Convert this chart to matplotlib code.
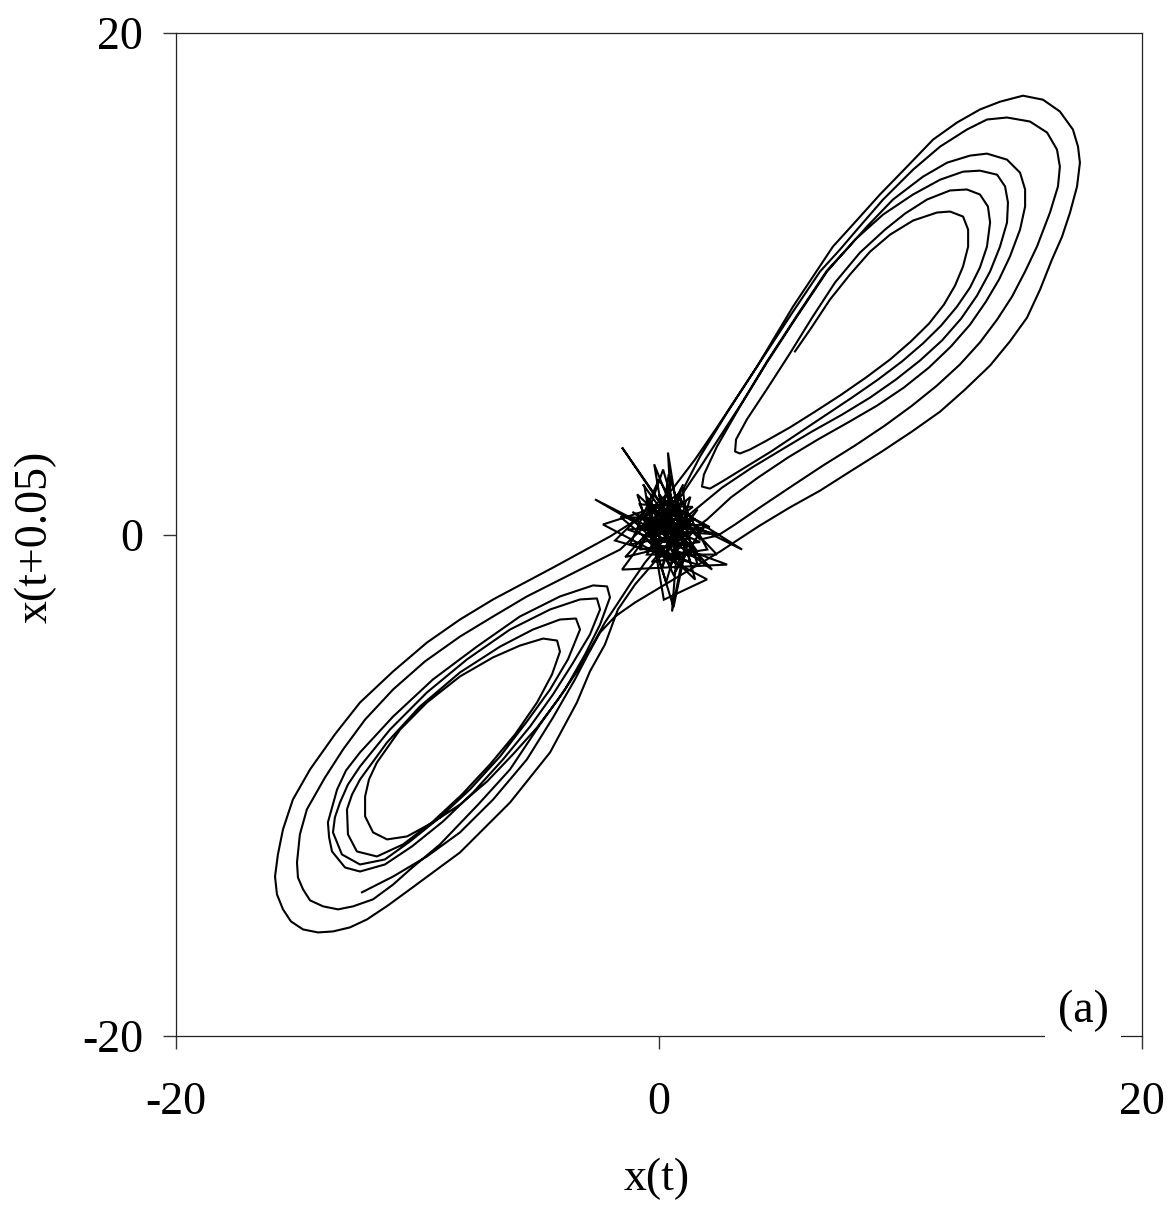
import matplotlib
matplotlib.use("Agg")
import matplotlib.pyplot as plt

plt.rcParams['font.family'] = ['Liberation Serif', 'DejaVu Serif']
plt.rcParams['axes.unicode_minus'] = False

# ---- trajectory: (x(t), x(t+0.05)) ----
# visit 1 of the upper lobe (three inner loops, starting at the free end)
upper_a = [(5.63, 7.30), (6.34, 8.29), (7.08, 9.37), (7.91, 10.37), (8.74, 11.28), (9.57, 11.96), (10.52, 12.52),
           (11.51, 12.84), (12.05, 12.88), (12.59, 12.68), (12.80, 12.16), (12.80, 11.48),
           (12.59, 10.69), (12.26, 9.93), (11.80, 9.17), (11.18, 8.41), (10.43, 7.70), (9.57, 6.98), (8.57, 6.26),
           (7.49, 5.54), (6.46, 4.90), (5.42, 4.27), (4.39, 3.71), (3.77, 3.39), (3.35, 3.23),
           (3.15, 3.31), (3.19, 3.79), (3.64, 4.59), (4.51, 5.86), (5.42, 7.22), (6.34, 8.65), (7.29, 10.05),
           (8.32, 11.24), (9.36, 12.16), (10.19, 12.80), (11.10, 13.36), (12.05, 13.72), (12.75, 13.76),
           (13.29, 13.56), (13.62, 13.08), (13.71, 12.44), (13.58, 11.48),
           (13.29, 10.65), (12.88, 9.85), (12.34, 9.09), (11.68, 8.33), (10.93, 7.62), (10.06, 6.90), (9.07, 6.18),
           (7.99, 5.46), (6.87, 4.74), (5.76, 4.03), (4.64, 3.31), (3.56, 2.67), (2.61, 2.11), (2.11, 1.83),
           (1.78, 1.91), (1.86, 2.39), (2.40, 3.51), (3.35, 5.10), (4.47, 6.86), (5.71, 8.69), (6.96, 10.49),
           (8.12, 11.76), (9.28, 12.76), (10.52, 13.56), (11.64, 14.15), (12.59, 14.47), (13.29, 14.51),
           (14.00, 14.35), (14.33, 13.88), (14.45, 13.24), (14.41, 12.44), (14.12, 11.48),
           (13.71, 10.49), (13.17, 9.53), (12.51, 8.61), (11.72, 7.74), (10.81, 6.94), (9.81, 6.18), (8.74, 5.46),
           (7.58, 4.78), (6.34, 4.11), (5.09, 3.39), (3.85, 2.67), (2.61, 1.87), (1.41, 0.92),
           (0.66, 0.28), (0.04, -0.40), (-0.58, -1.12), (-1.20, -1.99), (-1.74, -2.79), (-2.24, -3.51)]

# visit 1 of the lower lobe (four inner loops, then one wider loop)
lower_a = [(-2.86, -4.59), (-3.48, -5.58), (-4.18, -6.58), (-5.05, -7.70), (-6.05, -8.77), (-7.12, -9.85),
           (-8.24, -10.77), (-9.36, -11.48), (-10.43, -12.04), (-11.26, -12.16), (-11.84, -11.88),
           (-12.17, -11.24), (-12.17, -10.45), (-12.01, -9.77), (-11.68, -9.09), (-10.72, -7.78), (-9.61, -6.70),
           (-8.24, -5.66), (-6.87, -4.90), (-5.76, -4.43), (-4.80, -4.15), (-4.22, -4.23),
           (-4.10, -4.67), (-4.43, -5.58), (-5.05, -6.70), (-5.96, -7.97), (-7.00, -9.17), (-8.16, -10.37),
           (-9.40, -11.48), (-10.60, -12.36), (-11.68, -12.84),
           (-12.51, -12.64), (-12.88, -11.96), (-12.92, -10.96), (-12.71, -10.37), (-12.38, -9.77), (-11.26, -8.29),
           (-9.90, -6.86), (-8.24, -5.50), (-6.58, -4.47), (-5.22, -3.79), (-4.10, -3.39), (-3.44, -3.35),
           (-3.27, -3.79),
           (-3.77, -4.98), (-4.51, -6.18), (-5.47, -7.46), (-6.58, -8.85), (-7.83, -10.17), (-9.07, -11.28),
           (-10.31, -12.24), (-11.35, -12.96), (-12.38, -13.16),
           (-13.13, -12.76), (-13.50, -11.88), (-13.42, -11.28), (-13.21, -10.69), (-12.88, -9.97), (-12.38, -9.25),
           (-11.14, -7.78), (-9.61, -6.30), (-7.95, -4.98), (-6.17, -3.79), (-4.51, -2.99), (-3.27, -2.59),
           (-2.57, -2.55), (-2.44, -2.99),
           (-2.86, -3.99), (-3.60, -5.18), (-4.39, -6.38), (-5.34, -7.66), (-6.46, -8.97), (-7.70, -10.29),
           (-8.94, -11.44), (-10.23, -12.44), (-11.35, -13.16), (-12.38, -13.44),
           (-13.00, -13.28), (-13.54, -12.64), (-13.66, -12.08), (-13.71, -11.48), (-13.33, -10.17), (-12.96, -9.41),
           (-12.38, -8.69), (-11.01, -7.26), (-9.36, -5.78), (-7.54, -4.47), (-5.76, -3.27), (-4.10, -2.47),
           (-2.73, -2.03), (-2.15, -2.07), (-2.03, -2.51),
           (-2.44, -3.59), (-3.06, -4.78), (-3.89, -6.18), (-4.93, -7.58),
           (-6.17, -9.37), (-7.49, -10.77), (-9.07, -12.36), (-10.31, -13.36), (-11.01, -13.96), (-11.84, -14.55),
           (-12.67, -14.83), (-13.29, -14.95), (-13.91, -14.83), (-14.45, -14.59), (-14.74, -14.15),
           (-14.95, -13.68), (-14.99, -13.08), (-14.87, -11.96), (-14.58, -10.96), (-13.83, -9.69), (-13.08, -8.57),
           (-12.17, -7.38), (-11.01, -6.18), (-9.69, -5.06), (-8.24, -4.07), (-6.87, -3.27), (-5.47, -2.47),
           (-3.27, -1.40), (-1.61, -0.60)]

# visit 2 of the upper lobe
upper_b = [(-0.37, 0.52), (0.87, 1.48), (1.70, 2.67), (2.53, 3.91), (3.44, 5.26), (4.47, 6.90), (5.71, 8.73),
           (6.96, 10.53), (7.91, 11.52), (8.61, 12.28), (9.69, 13.36), (10.93, 14.27), (11.93, 14.83),
           (12.88, 15.11), (13.58, 15.19), (14.41, 14.95), (14.95, 14.43), (15.16, 13.76), (15.16, 13.08),
           (14.95, 12.16), (14.53, 11.08),
           (14.08, 10.17), (13.54, 9.29), (12.88, 8.37), (12.09, 7.50), (11.18, 6.66), (10.14, 5.86), (9.03, 5.14),
           (7.83, 4.47), (6.58, 3.79), (5.34, 3.07), (4.10, 2.27), (2.98, 1.48), (1.99, 0.60), (0.87, -0.20),
           (-0.17, -1.08), (-0.99, -1.99), (-1.70, -2.99)]

# visit 2 of the lower lobe (outermost loop)
lower_b = [(-2.24, -4.39), (-2.86, -5.46), (-3.40, -6.70), (-4.51, -8.69), (-6.17, -10.69), (-8.24, -12.68),
           (-10.31, -14.15), (-11.22, -14.79), (-12.09, -15.35), (-12.80, -15.67), (-13.50, -15.83),
           (-14.12, -15.87), (-14.74, -15.75), (-15.24, -15.43), (-15.57, -14.95), (-15.82, -14.35),
           (-15.90, -13.64), (-15.78, -12.76), (-15.57, -11.76), (-15.16, -10.57), (-14.45, -9.37),
           (-13.42, -7.97), (-12.38, -6.70), (-11.01, -5.46), (-9.61, -4.31), (-8.24, -3.39), (-6.87, -2.59),
           (-4.39, -1.32), (-2.03, -0.08), (-0.58, 0.80)]

# visit 3 of the upper lobe (two outer loops)
upper_c = [(0.54, 1.79), (1.49, 2.99), (2.40, 4.27), (3.35, 5.66), (4.39, 7.18), (5.55, 8.89), (6.67, 10.49),
           (7.49, 11.36), (8.20, 12.16), (9.28, 13.36), (10.52, 14.55), (11.64, 15.47), (12.75, 16.15),
           (13.58, 16.55), (14.41, 16.63), (15.36, 16.47), (16.07, 16.03), (16.48, 15.35), (16.60, 14.67),
           (16.52, 13.88), (16.19, 12.84), (15.65, 11.48),
           (15.16, 10.49), (14.62, 9.49), (14.00, 8.57), (13.29, 7.66), (12.46, 6.78), (11.51, 5.94),
           (10.48, 5.14), (9.36, 4.35), (8.12, 3.55), (6.79, 2.75), (5.47, 1.91), (4.18, 1.08), (3.15, 0.40),
           (2.44, -0.04), (1.70, -0.20), (1.20, 0.28), (1.08, 1.08),
           (0.99, 1.79), (1.70, 3.11), (2.82, 4.86), (4.06, 6.70), (5.55, 9.09), (7.20, 11.48), (8.03, 12.36),
           (9.15, 13.56), (10.27, 14.67), (11.35, 15.75), (12.34, 16.43), (13.29, 16.95), (14.12, 17.26),
           (15.07, 17.50), (15.90, 17.34), (16.60, 16.87), (17.14, 16.15), (17.35, 15.47), (17.43, 14.83),
           (17.31, 13.88), (17.02, 12.84),
           (16.69, 11.88), (16.27, 10.96), (15.78, 9.77), (15.24, 8.65), (14.53, 7.70), (13.71, 6.74),
           (12.67, 5.78), (11.64, 4.90), (10.48, 4.11), (9.23, 3.31), (7.91, 2.51), (6.67, 1.75), (5.42, 1.08),
           (4.18, 0.36), (3.35, -0.16), (2.53, -0.68), (1.28, -1.40), (0.04, -2.11), (-0.99, -2.71),
           (-1.82, -3.27)]

# final descent into the lower lobe (ends at the free end)
lower_c = [(-2.44, -3.91), (-2.94, -4.78), (-3.48, -5.78), (-4.39, -7.30), (-5.47, -8.97), (-6.87, -10.57),
           (-8.24, -11.88), (-9.61, -12.84), (-11.01, -13.64), (-12.30, -14.27)]

# noisy burst near the origin
noise = [(0.5, 0.6), (-1.53, 3.47), (0.9, 0.1), (0.37, 3.27), (0.6, -0.4), (-2.65, 1.4), (1.2, -0.5),
         (-0.66, 2.0), (-0.6, 1.9), (0.2, -2.6), (1.99, -1.79), (-2.32, 0.4), (0.9, 1.4), (0.54, -3.07),
         (1.3, 0.7), (3.44, -0.6), (-0.3, 1.2), (-1.82, -0.24), (1.6, -1.2), (0.4, 2.4), (0.0, -0.2),
         (2.82, -1.2), (-1.53, -1.4), (0.3, 1.0), (1.1, -0.6), (0.6, -2.9), (-0.5, 0.6), (2.53, 0.0),
         (-0.7, 0.2), (0.17, 2.59), (1.5, -1.8), (-1.0, 0.5), (0.8, 1.6), (2.0, -0.6), (-0.1, -0.9),
         (-0.3, 0.9), (1.2, 0.2), (0.0, 2.2), (-1.2, -0.4), (1.4, 0.1), (0.6, -0.8), (-0.5, 1.5), (0.3, 0.4),
         (1.8, -1.0), (-0.4, -0.3), (0.7, 1.2), (-0.9, 0.2), (1.0, 0.9), (0.1, -1.4), (0.6, 0.3), (-0.2, 0.5),
         (1.7, -0.3), (-0.8, -0.6), (0.4, 1.8), (1.3, -1.1), (-0.2, -0.5), (0.9, 0.5), (0.2, 1.4), (1.5, 0.6),
         (-0.6, -0.1), (0.5, -1.2), (1.1, 1.3), (-0.4, 0.8), (0.8, -0.2), (0.0, 0.9), (2.2, -1.4), (-1.1, 0.9),
         (0.7, 0.0), (0.3, -0.7), (1.6, 1.0), (-0.3, -1.1), (0.9, -0.9), (0.1, 0.2),
         (1.4, 1.1), (-0.8, 1.2), (0.6, -1.6), (1.9, 0.4), (-1.3, 0.2), (0.2, -0.3), (1.0, 2.0), (-0.5, -0.8),
         (2.4, -0.8), (0.0, 1.6), (0.9, -1.3), (-1.6, 0.7), (1.2, 0.6), (0.4, -0.6), (-0.2, 2.8), (0.8, 0.4),
         (1.6, -0.7), (-0.9, 1.6), (0.3, -1.9), (1.3, 1.5), (-0.4, 0.1), (2.1, 0.3), (0.5, 1.1), (-1.4, -0.9),
         (0.7, -0.4)]

tick_vals = [-20, 0, 20]
tick_labels = ['-20', '0', '20']
x_label = 'x(t)'
y_label = 'x(t+0.05)'
panel_tag = '(a)'

traj = upper_a + lower_a + upper_b + lower_b + upper_c + lower_c
traj_x = [p[0] for p in traj]
traj_y = [p[1] for p in traj]
noise_x = [p[0] for p in noise]
noise_y = [p[1] for p in noise]

W, H = 1176, 1207
fig = plt.figure(figsize=(W / 100, H / 100), dpi=100)
ax = fig.add_axes([176 / W, 1 - 1036 / H, (1142 - 176) / W, (1036 - 33) / H])

ax.plot(traj_x, traj_y, color='black', lw=1.5, solid_joinstyle='round')
ax.plot(noise_x, noise_y, color='black', lw=1.5, solid_joinstyle='miter')

ax.set_xlim(-20, 20)
ax.set_ylim(-20, 20)
ax.set_xticks(tick_vals)
ax.set_xticklabels(tick_labels)
ax.set_yticks(tick_vals)
ax.set_yticklabels(tick_labels)
ax.tick_params(axis='both', direction='out', length=9.5, width=1.0, colors='#333333', labelcolor='black',
               labelsize=33)
ax.tick_params(axis='x', pad=23)
ax.tick_params(axis='y', pad=14)
for s in ax.spines.values():
    s.set_linewidth(0.9)
    s.set_color('#222222')

ax.text(17.56, -18.98, panel_tag, fontsize=33, ha='center', va='center', zorder=6, clip_on=False,
        bbox=dict(facecolor='white', edgecolor='none', pad=9))

fig.text(657 / W, 1 - 1179 / H, x_label, fontsize=33, ha='center', va='center')
fig.text(35 / W, 1 - 537 / H, y_label, fontsize=33, ha='center', va='center', rotation=90)

fig.savefig('out.png', dpi=100, facecolor='white')
